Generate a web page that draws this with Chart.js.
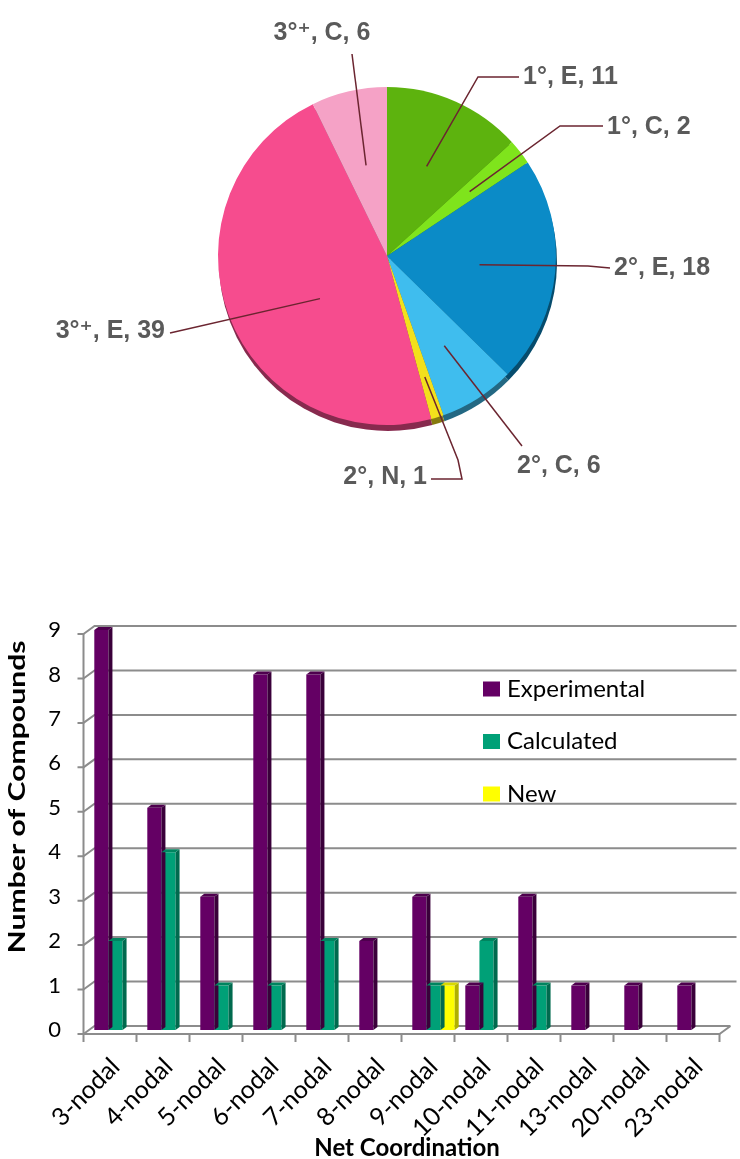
<!DOCTYPE html>
<html>
<head>
<meta charset="utf-8">
<script src="https://cdn.jsdelivr.net/npm/chart.js@4.4.1/dist/chart.umd.min.js"></script>
<style>
  html, body { margin: 0; padding: 0; background: #ffffff; }
  #page { position: relative; width: 740px; height: 1159px; overflow: hidden; }
  #pieBox { position: absolute; left: 0; top: 0; width: 740px; height: 520px; }
  #barBox { position: absolute; left: 0; top: 590px; width: 740px; height: 569px; }
</style>
</head>
<body>
<div id="page">
  <div id="pieBox"><canvas id="pieChart"></canvas></div>
  <div id="barBox"><canvas id="barChart"></canvas></div>
</div>
<script>
// ---- Pie: compounds by class and origin ----
const pieLabels = ['1°, E', '1°, C', '2°, E', '2°, C', '2°, N', '3°⁺, E', '3°⁺, C'];
const pieValues = [11, 2, 18, 6, 1, 39, 6];
const pieColors = ['#5db30e', '#7fe41c', '#0b8bc7', '#3fbdee', '#f3e01c', '#f64c8e', '#f5a2c6'];

// ---- Bars: compounds per net coordination ----
const categories = ['3-nodal', '4-nodal', '5-nodal', '6-nodal', '7-nodal', '8-nodal',
                    '9-nodal', '10-nodal', '11-nodal', '13-nodal', '20-nodal', '23-nodal'];
const seriesNames = ['Experimental', 'Calculated', 'New'];
const experimental = [9, 5, 3, 8, 8, 2, 3, 1, 3, 1, 1, 1];
const calculated   = [2, 4, 1, 1, 2, 0, 1, 2, 1, 0, 0, 0];
const newCompounds = [0, 0, 0, 0, 0, 0, 1, 0, 0, 0, 0, 0];
const yTicks = [0, 1, 2, 3, 4, 5, 6, 7, 8, 9];

// Callout placement for the pie labels (text anchor, elbow points, and where
// the leader meets the slice: t = fraction along the arc, r = fraction of radius)
const callouts = [
  { tx: 523, ty: 77,  align: 'left',   path: [[519, 77], [478, 77]],              t: 0.5,  r: 0.58 },
  { tx: 607, ty: 127, align: 'left',   path: [[603, 126], [560, 126]],            t: 0.5,  r: 0.62 },
  { tx: 614, ty: 268, align: 'left',   path: [[610, 268], [588, 266]],            t: 0.5,  r: 0.55 },
  { tx: 517, ty: 466, align: 'left',   path: [[522, 446]],                        t: 0.5,  r: 0.63 },
  { tx: 427, ty: 477, align: 'right',  path: [[431, 479], [462, 479], [458, 460]], t: 0.5,  r: 0.75 },
  { tx: 165, ty: 331, align: 'right',  path: [[170, 333]],                        t: 0.43, r: 0.47 },
  { tx: 322, ty: 33,  align: 'center', path: [[352, 54]],                         t: 0.5,  r: 0.55 }
];

function shade(hex, k) {
  const n = parseInt(hex.slice(1), 16);
  const r = Math.round(((n >> 16) & 255) * k);
  const g = Math.round(((n >> 8) & 255) * k);
  const b = Math.round((n & 255) * k);
  return `rgb(${r},${g},${b})`;
}

// darker copy of each slice, slightly lower, gives the tilted-disc edge
const pieDepth = {
  id: 'pieDepth',
  beforeDatasetsDraw(chart) {
    const ctx = chart.ctx;
    const meta = chart.getDatasetMeta(0);
    ctx.save();
    meta.data.forEach((arc, i) => {
      const p = arc.getProps(['x', 'y', 'startAngle', 'endAngle', 'outerRadius']);
      ctx.beginPath();
      ctx.moveTo(p.x + 1, p.y + 6);
      ctx.arc(p.x + 1, p.y + 6, p.outerRadius, p.startAngle, p.endAngle);
      ctx.closePath();
      ctx.fillStyle = shade(pieColors[i], 0.55);
      ctx.fill();
    });
    ctx.restore();
  }
};

const pieCallouts = {
  id: 'pieCallouts',
  afterDatasetsDraw(chart) {
    const ctx = chart.ctx;
    const meta = chart.getDatasetMeta(0);
    ctx.save();
    ctx.font = 'bold 25px "Liberation Sans", Arial, "DejaVu Sans", sans-serif';
    ctx.textBaseline = 'middle';
    meta.data.forEach((arc, i) => {
      const c = callouts[i];
      const p = arc.getProps(['x', 'y', 'startAngle', 'endAngle', 'outerRadius']);
      const a = p.startAngle + c.t * (p.endAngle - p.startAngle);
      const rr = c.r * p.outerRadius;
      const ix = p.x + rr * Math.cos(a);
      const iy = p.y + rr * Math.sin(a);
      ctx.beginPath();
      ctx.moveTo(c.path[0][0], c.path[0][1]);
      for (let k = 1; k < c.path.length; k++) ctx.lineTo(c.path[k][0], c.path[k][1]);
      ctx.lineTo(ix, iy);
      ctx.strokeStyle = '#6b2530';
      ctx.lineWidth = 1.5;
      ctx.stroke();
      ctx.fillStyle = '#5a5a5a';
      ctx.textAlign = c.align;
      ctx.fillText(`${pieLabels[i]}, ${pieValues[i]}`, c.tx, c.ty);
    });
    ctx.restore();
  }
};

new Chart(document.getElementById('pieChart'), {
  type: 'pie',
  data: {
    labels: pieLabels,
    datasets: [{ data: pieValues, backgroundColor: pieColors, borderWidth: 0 }]
  },
  options: {
    responsive: true,
    maintainAspectRatio: false,
    animation: false,
    events: [],
    layout: { padding: { left: 218, right: 184, top: 87, bottom: 95 } },
    plugins: { legend: { display: false }, tooltip: { enabled: false } }
  },
  plugins: [pieDepth, pieCallouts]
});

// ---- 3D column chart ----
// The value scales describe the middle plane; the floor/walls sit half a depth in front and behind.
const DEPTH = { dx: 11, dy: -8 };
const GRID = '#8c8c8c';

const wall3d = {
  id: 'wall3d',
  beforeDatasetsDraw(chart) {
    const { ctx, chartArea: { left, right }, scales: { x, y } } = chart;
    const hx = DEPTH.dx / 2, hy = DEPTH.dy / 2;
    ctx.save();
    ctx.strokeStyle = GRID;
    ctx.lineWidth = 2;
    ctx.lineJoin = 'miter';
    yTicks.forEach(v => {
      const yy = y.getPixelForValue(v);
      const fx = left - hx, fy = yy - hy;
      const bx = left + hx, by = yy + hy;
      ctx.beginPath();
      if (v === 0) {
        ctx.moveTo(fx, fy);
        ctx.lineTo(right - hx, fy);
        ctx.lineTo(right + hx, by);
        ctx.moveTo(fx, fy);
        ctx.lineTo(bx, by);
        ctx.lineTo(right + hx, by);
      } else {
        ctx.moveTo(fx, fy);
        ctx.lineTo(bx, by);
        ctx.lineTo(right + hx + 6, by);
      }
      ctx.moveTo(fx - 6, fy);
      ctx.lineTo(fx, fy);
      ctx.stroke();
    });
    // front edge of the side wall
    const yTop = y.getPixelForValue(yTicks[yTicks.length - 1]) - hy;
    const yBot = y.getPixelForValue(0) - hy;
    ctx.beginPath();
    ctx.moveTo(left - hx, yTop);
    ctx.lineTo(left - hx, yBot);
    // category boundary ticks on the front floor edge
    for (let i = 0; i <= categories.length; i++) {
      const xx = x.getPixelForValue(i - 0.5) - hx;
      ctx.moveTo(xx, yBot);
      ctx.lineTo(xx, yBot + 8);
    }
    ctx.stroke();
    ctx.restore();
  }
};

const bars3d = {
  id: 'bars3d',
  afterDatasetsDraw(chart) {
    const ctx = chart.ctx;
    const s = 4, sy = 3;
    ctx.save();
    chart.data.datasets.forEach((ds, di) => {
      const meta = chart.getDatasetMeta(di);
      meta.data.forEach((el, i) => {
        if (!ds.data[i]) return;
        const p = el.getProps(['x', 'y', 'base', 'width']);
        const x1 = p.x - p.width / 2, x2 = p.x + p.width / 2;
        const top = p.y, bot = p.base;
        ctx.beginPath();
        ctx.moveTo(x2, top);
        ctx.lineTo(x2 + s, top - sy);
        ctx.lineTo(x2 + s, bot - sy);
        ctx.lineTo(x2, bot);
        ctx.closePath();
        ctx.fillStyle = ds.sideColor;
        ctx.fill();
        ctx.beginPath();
        ctx.moveTo(x1, top);
        ctx.lineTo(x1 + s, top - sy);
        ctx.lineTo(x2 + s, top - sy);
        ctx.lineTo(x2, top);
        ctx.closePath();
        ctx.fillStyle = ds.topColor;
        ctx.fill();
      });
    });
    ctx.restore();
  }
};

const legendBox = {
  id: 'legendBox',
  afterDraw(chart) {
    const ctx = chart.ctx;
    const o = chart.options.plugins.legendBox;
    ctx.save();
    ctx.font = '24px Lato, "Open Sans", sans-serif';
    ctx.textBaseline = 'middle';
    ctx.textAlign = 'left';
    chart.data.datasets.forEach((ds, i) => {
      const cy = o.y + i * o.step;
      ctx.fillStyle = ds.backgroundColor;
      ctx.fillRect(o.x, cy - 7.5, 17, 15);
      ctx.fillStyle = '#000';
      ctx.fillText(ds.label, o.x + 24, cy);
    });
    ctx.restore();
  }
};

const yTitle = {
  id: 'yTitle',
  afterDraw(chart) {
    const ctx = chart.ctx;
    const o = chart.options.plugins.yTitle;
    ctx.save();
    ctx.font = 'bold 22px Lato, "Open Sans", sans-serif';
    const w = ctx.measureText(o.text).width;
    ctx.translate(o.x, o.y);
    ctx.rotate(-Math.PI / 2);
    ctx.scale(o.length / w, 1);
    ctx.textAlign = 'center';
    ctx.textBaseline = 'middle';
    ctx.fillStyle = '#000';
    ctx.fillText(o.text, 0, 0);
    ctx.restore();
  }
};

new Chart(document.getElementById('barChart'), {
  type: 'bar',
  data: {
    labels: categories,
    datasets: [
      { label: seriesNames[0], data: experimental, backgroundColor: '#640064', sideColor: '#3a003a', topColor: '#4e004e' },
      { label: seriesNames[1], data: calculated,   backgroundColor: '#00a077', sideColor: '#006a4e', topColor: '#00845f' },
      { label: seriesNames[2], data: newCompounds, backgroundColor: '#ffff00', sideColor: '#b0b000', topColor: '#d8d800' }
    ]
  },
  options: {
    responsive: true,
    maintainAspectRatio: false,
    animation: false,
    events: [],
    layout: { padding: { top: 40, right: 15, left: 0, bottom: 0 } },
    datasets: { bar: { categoryPercentage: 0.8, barPercentage: 1, borderWidth: 0 } },
    scales: {
      x: {
        grid: { display: false, drawTicks: true, tickLength: 8 },
        border: { display: false },
        ticks: { font: { family: 'Lato', size: 25 }, color: '#000', maxRotation: 45, minRotation: 45, padding: 14, autoSkip: false },
        title: { display: true, text: 'Net Coordination', color: '#000',
                 font: { family: 'Lato', size: 24, weight: 'bold' }, padding: { top: 0, bottom: -4 } },
        afterFit(scale) { scale.height = 129; }
      },
      y: {
        min: 0, max: 9,
        grid: { display: false, drawTicks: true, tickLength: 6 },
        border: { display: false },
        ticks: { stepSize: 1, font: { family: 'Lato', size: 22 }, color: '#000', padding: 22 },
        afterFit(scale) { scale.width = 89; }
      }
    },
    plugins: {
      legend: { display: false },
      tooltip: { enabled: false },
      legendBox: { x: 483, y: 99, step: 52.5 },
      yTitle: { text: 'Number of Compounds', x: 18, y: 207, length: 313 }
    }
  },
  plugins: [wall3d, bars3d, legendBox, yTitle]
});
</script>
</body>
</html>
